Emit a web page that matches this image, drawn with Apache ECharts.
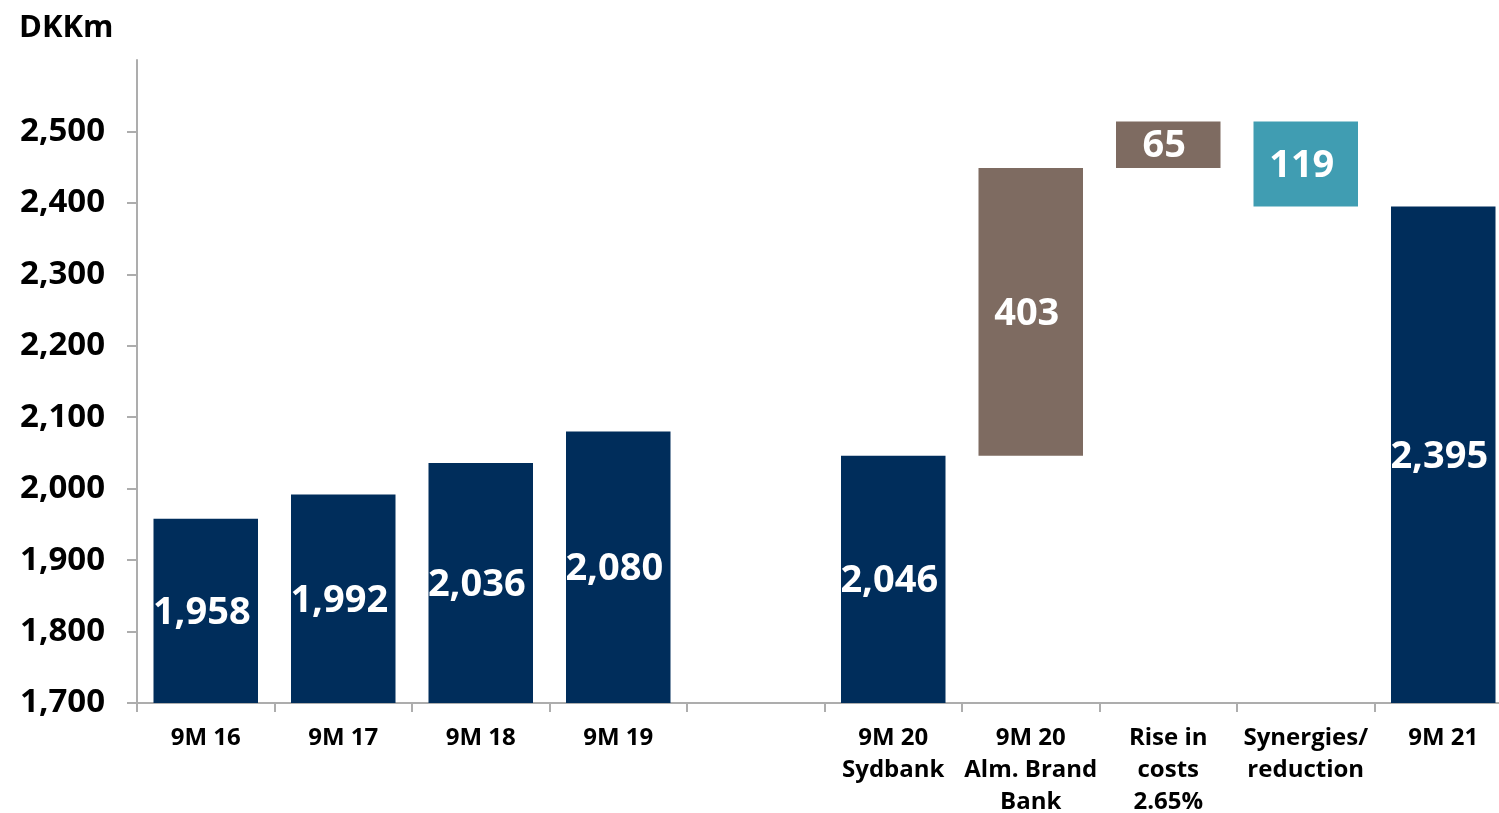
<!DOCTYPE html>
<html>
<head>
<meta charset="utf-8">
<script src="https://cdn.jsdelivr.net/npm/echarts@6/dist/echarts.min.js"></script>
<style>
  html, body { margin: 0; padding: 0; background: #ffffff; overflow: hidden; }
  #chart { width: 1499px; height: 813px; }
</style>
</head>
<body>
<div id="chart"></div>
<script>
// Cost development, DKKm
const categories = [
  '9M 16', '9M 17', '9M 18', '9M 19', '',
  '9M 20\nSydbank', '9M 20\nAlm. Brand\nBank', 'Rise in\ncosts\n2.65%',
  'Synergies/\nreduction', '9M 21'
];
const totals    = [1958, 1992, 2036, 2080, null, 2046, null, null, null, 2395];
const increases = [null, null, null, null, null, null, 403, 65, null, null];
const decreases = [null, null, null, null, null, null, null, null, 119, null];
const yTicks = { min: 1700, max: 2600, step: 100 };

// Invisible base for the floating waterfall steps
const base = [];
let running = 0;
for (let i = 0; i < categories.length; i++) {
  if (totals[i] != null) {
    running = totals[i];
    base.push(null);
  } else if (increases[i] != null) {
    base.push(running);
    running += increases[i];
  } else if (decreases[i] != null) {
    running -= decreases[i];
    base.push(running);
  } else {
    base.push(null);
  }
}

const toData = arr => arr.map(v => (v == null ? '-' : v));
const FONT = '"Open Sans", "Noto Sans", sans-serif';
const labelStyle = {
  show: true,
  position: 'inside',
  offset: [-4, 2],
  color: '#ffffff',
  fontFamily: FONT,
  fontWeight: 'bold',
  fontSize: 38,
  formatter: p => Number(p.value).toLocaleString('en-US')
};

const chart = echarts.init(document.getElementById('chart'), null, { renderer: 'canvas' });
chart.setOption({
  animation: false,
  backgroundColor: '#ffffff',
  title: {
    text: 'DKKm',
    left: 14,
    top: 8,
    textStyle: { fontFamily: FONT, fontWeight: 'bold', fontSize: 31, color: '#000000' }
  },
  grid: {
    left: 137, right: -13, top: 60, bottom: 110,
    containLabel: false,
    outerBoundsMode: 'none'
  },
  xAxis: {
    type: 'category',
    data: categories,
    axisLine: { show: true, lineStyle: { color: '#adadad', width: 2 } },
    axisTick: { show: true, alignWithLabel: false, length: 9, lineStyle: { color: '#adadad', width: 2 } },
    axisLabel: {
      interval: 0,
      margin: 19,
      color: '#000000',
      fontFamily: FONT,
      fontWeight: 'bold',
      fontSize: 24,
      lineHeight: 32
    }
  },
  yAxis: {
    type: 'value',
    min: yTicks.min,
    max: yTicks.max,
    interval: yTicks.step,
    splitLine: { show: false },
    axisLine: { show: true, lineStyle: { color: '#adadad', width: 2 } },
    axisTick: { show: true, length: 10, lineStyle: { color: '#adadad', width: 2 } },
    axisLabel: {
      showMaxLabel: false,
      margin: 32,
      color: '#000000',
      fontFamily: FONT,
      fontWeight: 'bold',
      fontSize: 33,
      formatter: v => v.toLocaleString('en-US')
    }
  },
  series: [
    {
      name: 'base',
      type: 'bar',
      stack: 'w',
      barWidth: '76%',
      clip: true,
      silent: true,
      itemStyle: { color: 'transparent' },
      data: toData(base)
    },
    {
      name: 'total',
      type: 'bar',
      stack: 'w',
      clip: true,
      itemStyle: { color: '#002d5b' },
      label: labelStyle,
      data: toData(totals)
    },
    {
      name: 'increase',
      type: 'bar',
      stack: 'w',
      clip: true,
      itemStyle: { color: '#7e6b61' },
      label: labelStyle,
      data: toData(increases)
    },
    {
      name: 'decrease',
      type: 'bar',
      stack: 'w',
      clip: true,
      itemStyle: { color: '#409db2' },
      label: labelStyle,
      data: toData(decreases)
    }
  ]
});
</script>
</body>
</html>
